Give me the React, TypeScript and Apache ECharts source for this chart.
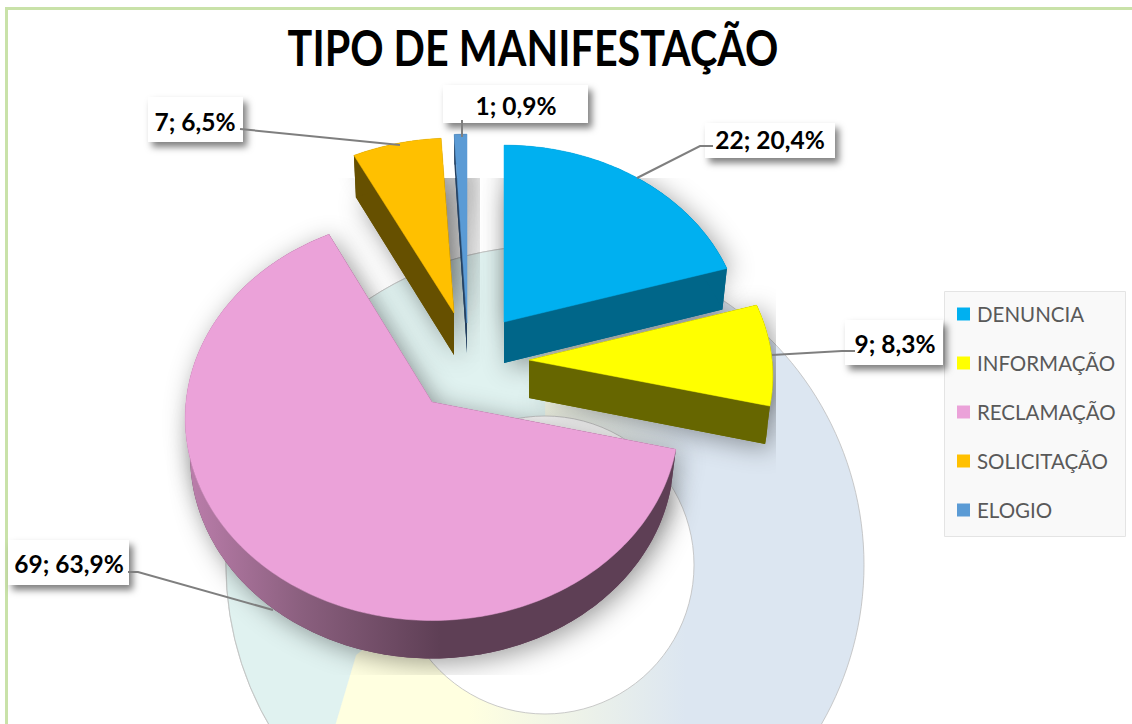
import React, { useEffect, useRef } from "react";
import * as echarts from "echarts";

const titleText = "TIPO DE MANIFESTAÇÃO";
const categories = ["DENUNCIA", "INFORMAÇÃO", "RECLAMAÇÃO", "SOLICITAÇÃO", "ELOGIO"];
const values = [22, 9, 69, 7, 1];
const percentLabels = ["20,4%", "8,3%", "63,9%", "6,5%", "0,9%"];
const faceColors = ["#00B0F0", "#FFFF00", "#EBA2D9", "#FFC000", "#5B9BD5"];
const wallColors = ["#006689", "#666600", "#5E3F55", "#665000", "#244060"];

const FONT = "Lato";
const total = values.reduce((a, b) => a + b, 0);
const starts = values.map((_, i) => values.slice(0, i).reduce((a, b) => a + b, 0) / total);

// Layout of every exploded slice in the tilted projection
const sliceLayout = [
  { cx: 504, cy: 322, rx: 238, ry: 191, h: 41 },
  { cx: 529, cy: 360, rx: 243, ry: 196, h: 38 },
  { cx: 432, cy: 402, rx: 246, ry: 201, h: 38 },
  { cx: 454, cy: 313, rx: 239, ry: 189, h: 42 },
  { cx: 467, cy: 323, rx: 239, ry: 204, h: 30 },
];
const PERSPECTIVE = 0.08;

const labelLayout = [
  { box: [705, 123, 130, 35], text: [770, 139], line: [[713, 146], [700, 146], [637, 178]] },
  { box: [845, 320, 98, 45], text: [895, 343], line: [[855, 351], [842, 351], [772, 355]] },
  { box: [8, 540, 121, 45], text: [69, 563], line: [[128, 572], [138, 572], [273, 610]] },
  { box: [148, 97, 95, 45], text: [195, 121], line: [[240, 129], [400, 145]] },
  { box: [443, 85, 145, 38], text: [516, 105], line: [[462, 120], [462, 137]] },
];

const SHADOW_CLIP = { x: 150, y: 178, width: 626, height: 497 };

function project(i: number, frac: number, bottom: boolean): number[] {
  const g = sliceLayout[i];
  const a = frac * Math.PI * 2;
  const s = Math.sin(a);
  const c = Math.cos(a);
  const w = 1 + PERSPECTIVE * c;
  const k = bottom ? 0.98 : 1;
  return [g.cx + (g.rx * s * k) / w, g.cy + (bottom ? g.h : 0) - (g.ry * c) / w];
}

function rim(i: number, from: number, to: number, bottom: boolean): number[][] {
  const n = Math.max(2, Math.ceil((to - from) * 360));
  const pts: number[][] = [];
  for (let j = 0; j <= n; j++) pts.push(project(i, from + ((to - from) * j) / n, bottom));
  return pts;
}

function makeRenderItem(i: number) {
  return (_params: any, api: any) => {
    const value = api.value(0);
    const from = api.value(1);
    const to = from + value / total;
    const g = sliceLayout[i];
    const top = [g.cx, g.cy];
    const bot = [g.cx, g.cy + g.h];
    const topRim = rim(i, from, to, false);
    const botRim = rim(i, from, to, true);
    const wall = wallColors[i];
    const shadowStyle = {
      fill: wall,
      shadowBlur: 26,
      shadowColor: "rgba(0,0,0,0.38)",
      shadowOffsetX: 5,
      shadowOffsetY: 5,
    };
    const rimFill =
      i === 2
        ? {
            type: "linear",
            x: 190,
            y: 0,
            x2: 440,
            y2: 0,
            global: true,
            colorStops: [
              { offset: 0, color: "#BA7DAA" },
              { offset: 0.45, color: "#8A5F7E" },
              { offset: 1, color: wall },
            ],
          }
        : wall;
    const clip = { type: "rect", shape: SHADOW_CLIP };
    const lb = labelLayout[i];
    const children: any[] = [
      { type: "polygon", z2: 0, clipPath: clip, shape: { points: [top, ...topRim] }, style: shadowStyle },
      { type: "polygon", z2: 0, clipPath: clip, shape: { points: [bot, ...botRim] }, style: shadowStyle },
      { type: "polygon", z2: 1, shape: { points: [top, topRim[0], botRim[0], bot] }, style: { fill: wall } },
      {
        type: "polygon",
        z2: 1,
        shape: { points: [top, topRim[topRim.length - 1], botRim[botRim.length - 1], bot] },
        style: { fill: wall },
      },
      {
        type: "polygon",
        z2: 1,
        shape: { points: [...topRim, ...botRim.slice().reverse()] },
        style: { fill: rimFill },
      },
      {
        type: "polygon",
        z2: 2,
        shape: { points: [top, ...topRim] },
        style: { fill: faceColors[i], stroke: faceColors[i], lineWidth: 0.5 },
      },
      {
        type: "rect",
        z2: 5,
        shape: { x: lb.box[0], y: lb.box[1], width: lb.box[2], height: lb.box[3] },
        style: {
          fill: "#FFFFFF",
          shadowBlur: 7,
          shadowColor: "rgba(0,0,0,0.5)",
          shadowOffsetX: 4,
          shadowOffsetY: 5,
        },
      },
      {
        type: "polyline",
        z2: 6,
        shape: { points: lb.line },
        style: { fill: "none", stroke: "#7F7F7F", lineWidth: 2 },
      },
      {
        type: "text",
        z2: 7,
        style: {
          text: `${value}; ${percentLabels[i]}`,
          x: lb.text[0],
          y: lb.text[1],
          align: "center",
          verticalAlign: "middle",
          fill: "#000000",
          font: `700 24.5px ${FONT}`,
        },
      },
    ];
    return { type: "group", children };
  };
}

const RING = { cx: 545, cy: 565, outer: 319, inner: 149 };

function ringArcLeft(): number[][] {
  const pts: number[][] = [];
  for (let d = 180; d <= 335; d += 3) {
    const a = (d * Math.PI) / 180;
    // from the top of the ring counter-clockwise to the lower left
    const t = Math.PI * 2 - (a - Math.PI);
    pts.push([RING.cx + RING.outer * Math.sin(t), RING.cy - RING.outer * Math.cos(t)]);
  }
  return pts;
}

export default function App() {
  const ref = useRef<HTMLDivElement>(null);
  useEffect(() => {
    if (!ref.current) return;
    const chart = echarts.init(ref.current, undefined, { renderer: "svg" });
    chart.setOption({
      animation: false,
      backgroundColor: "#FFFFFF",
      legend: {
        data: categories,
        orient: "vertical",
        left: 957,
        top: 302,
        padding: 0,
        icon: "rect",
        itemWidth: 13,
        itemHeight: 13,
        itemGap: 25,
        textStyle: { fontFamily: FONT, fontSize: 20.5, color: "#595959", lineHeight: 24, padding: [0, 0, 0, 2] },
        selectedMode: false,
      },
      graphic: {
        elements: [
          {
            type: "rect",
            z: 0,
            shape: { x: 5, y: 7, width: 1127, height: 3 },
            style: { fill: "#C9E2A9" },
          },
          {
            type: "rect",
            z: 0,
            shape: { x: 5, y: 7, width: 3, height: 717 },
            style: { fill: "#C9E2A9" },
          },
          {
            type: "text",
            z: 10,
            x: 533,
            y: 47,
            scaleX: 0.843,
            style: {
              text: titleText,
              align: "center",
              verticalAlign: "middle",
              fill: "#000000",
              font: `700 49px ${FONT}`,
            },
          },
          {
            type: "circle",
            z: 0,
            shape: { cx: RING.cx, cy: RING.cy, r: RING.outer },
            style: {
              stroke: "#BDBDBD",
              lineWidth: 0.8,
              fill: {
                type: "linear",
                x: 226,
                y: 0,
                x2: 864,
                y2: 0,
                global: true,
                colorStops: [
                  { offset: 0, color: "#FFFFE0" },
                  { offset: 0.38, color: "#FFFFE0" },
                  { offset: 0.72, color: "#DCE6F1" },
                  { offset: 1, color: "#DCE6F1" },
                ],
              },
            },
          },
          {
            type: "polygon",
            z: 0,
            shape: { points: [...ringArcLeft(), [316, 790], [356, 655], [545, 500]] },
            style: { fill: "#E0F2F0", stroke: "#E0F2F0", lineWidth: 0.3 },
          },
          {
            type: "arc",
            z: 0,
            shape: { cx: RING.cx, cy: RING.cy, r: RING.outer, startAngle: Math.PI, endAngle: Math.PI * 1.5 },
            style: { stroke: "#BDBDBD", lineWidth: 0.8, fill: "none" },
          },
          {
            type: "arc",
            z: 0,
            shape: { cx: RING.cx, cy: RING.cy, r: RING.outer, startAngle: Math.PI * 0.6, endAngle: Math.PI },
            style: { stroke: "#BDBDBD", lineWidth: 0.8, fill: "none" },
          },
          {
            type: "circle",
            z: 0,
            shape: { cx: RING.cx, cy: RING.cy, r: RING.inner },
            style: { fill: "#FFFFFF", stroke: "#BDBDBD", lineWidth: 0.8 },
          },
          {
            type: "rect",
            z: 0,
            shape: { x: 944.5, y: 291.5, width: 181, height: 245 },
            style: { fill: "#F9F9F9", stroke: "#E4E4E4", lineWidth: 1 },
          },
        ],
      },
      series: categories.map((name, i) => ({
        type: "custom",
        name,
        coordinateSystem: "none",
        itemStyle: { color: faceColors[i] },
        data: [[values[i], starts[i]]],
        renderItem: makeRenderItem(i),
      })),
    });
    return () => chart.dispose();
  }, []);
  return <div ref={ref} style={{ position: "fixed", left: 0, top: 0, width: 1132, height: 724 }} />;
}
